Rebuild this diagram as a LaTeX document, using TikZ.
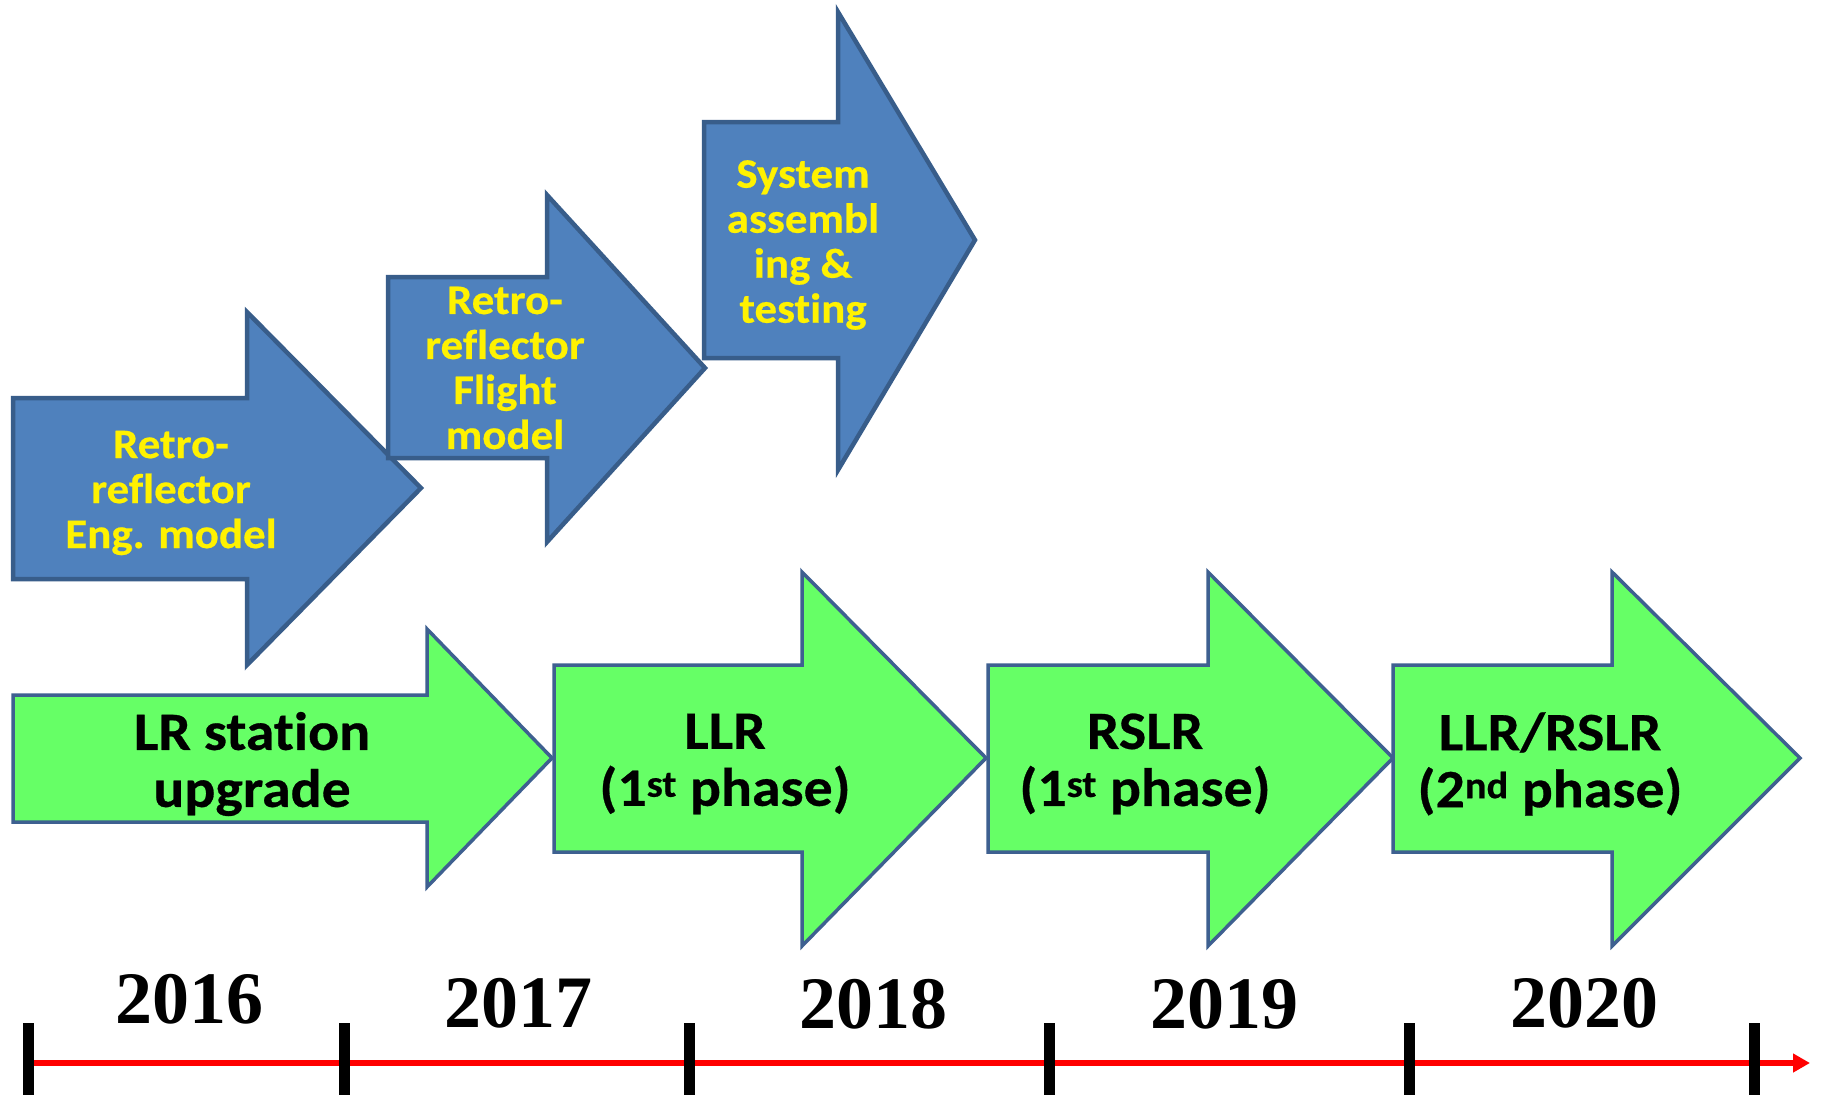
\documentclass[tikz,border=0pt]{standalone}
\usepackage{fontspec}
\newfontfamily\stagefont[Ligatures=NoCommon, FakeStretch=1.07, FakeBold=0.5]{Carlito}
\newfontfamily\yearfont{Liberation Serif}
\usetikzlibrary{arrows.meta}

\definecolor{stageblue}{HTML}{4F81BD}
\definecolor{blueedge}{HTML}{385D8A}
\definecolor{stagegreen}{HTML}{66FF66}
\definecolor{greenedge}{HTML}{3E6090}

\tikzset{
  bluestage/.style={fill=stageblue, draw=blueedge, line width=4.5pt},
  greenstage/.style={fill=stagegreen, draw=greenedge, line width=3.5pt},
  bluelabel/.style={text=yellow, inner sep=0pt, align=center,
    font=\stagefont\bfseries\fontsize{42}{45}\selectfont},
  greenlabel/.style={text=black, inner sep=0pt, align=center,
    font=\stagefont\bfseries\fontsize{54}{57}\selectfont},
  yearlabel/.style={anchor=base, inner sep=0pt,
    font=\yearfont\bfseries\fontsize{74}{74}\selectfont},
  yeartick/.style={black, line width=11pt},
  timeline/.style={red, line width=6pt, -{Triangle[length=17pt, width=18pt]}}
}

\begin{document}
\begin{tikzpicture}[x=1pt, y=-1pt]
        \fill[white] (0,0) rectangle (1821,1095);
        \useasboundingbox (0,0) rectangle (1821,1095);

        % Retro-reflector arrows
        \draw[bluestage] (13,398) -- (247,398) -- (247,312) -- (421,488) -- (247,665) -- (247,579) -- (13,579) -- cycle;
        \node[bluelabel] (engmodel) at (171,493) {Retro-\\reflector\\Eng. model};

        \draw[bluestage] (388,277) -- (547,277) -- (547,195) -- (705,368) -- (547,542) -- (547,458) -- (388,458) -- cycle;
        \node[bluelabel] (flightmodel) at (505,368) {Retro-\\reflector\\Flight\\model};

        \draw[bluestage] (704,122) -- (838,122) -- (838,12) -- (975,240) -- (838,470) -- (838,358) -- (704,358) -- cycle;
        \node[bluelabel] (assembly) at (803,245) {System\\assembl\\ing \&\\testing};

        % Station and ranging arrows
        \draw[greenstage] (13,695) -- (427,695) -- (427,629) -- (552,758) -- (427,887) -- (427,822) -- (13,822) -- cycle;
        \node[greenlabel] (station) at (252,764) {LR station\\upgrade};

        \draw[greenstage] (554,665) -- (802,665) -- (802,572) -- (986,758) -- (802,946) -- (802,852) -- (554,852) -- cycle;
        \node[greenlabel] (llrfirst) at (725,764) {LLR\\(1\textsuperscript{st} phase)};

        \draw[greenstage] (988,665) -- (1208,665) -- (1208,572) -- (1393,758) -- (1208,946) -- (1208,852) -- (988,852) -- cycle;
        \node[greenlabel] (rslrfirst) at (1145,764) {RSLR\\(1\textsuperscript{st} phase)};

        \draw[greenstage] (1393,665) -- (1612,665) -- (1612,572) -- (1800,758) -- (1612,946) -- (1612,852) -- (1393,852) -- cycle;
        \node[greenlabel] (llrsecond) at (1550,764) {LLR/RSLR\\(2\textsuperscript{nd} phase)};

        % Time axis
        \coordinate (axisstart) at (28,1063);
        \coordinate (axisend) at (1810,1063);
        \draw[timeline] (axisstart) -- (axisend);
        \foreach \x in {28, 344, 689, 1049, 1409, 1754} {
          \draw[yeartick] (\x,1023) -- (\x,1095);
        }
        \foreach \x/\b/\year in {189/1023/2016, 518/1027/2017, 873/1028/2018, 1224/1028/2019, 1584/1027/2020} {
          \node[yearlabel] (y\year) at (\x,\b) {\year};
        }
      \end{tikzpicture}
\end{document}
